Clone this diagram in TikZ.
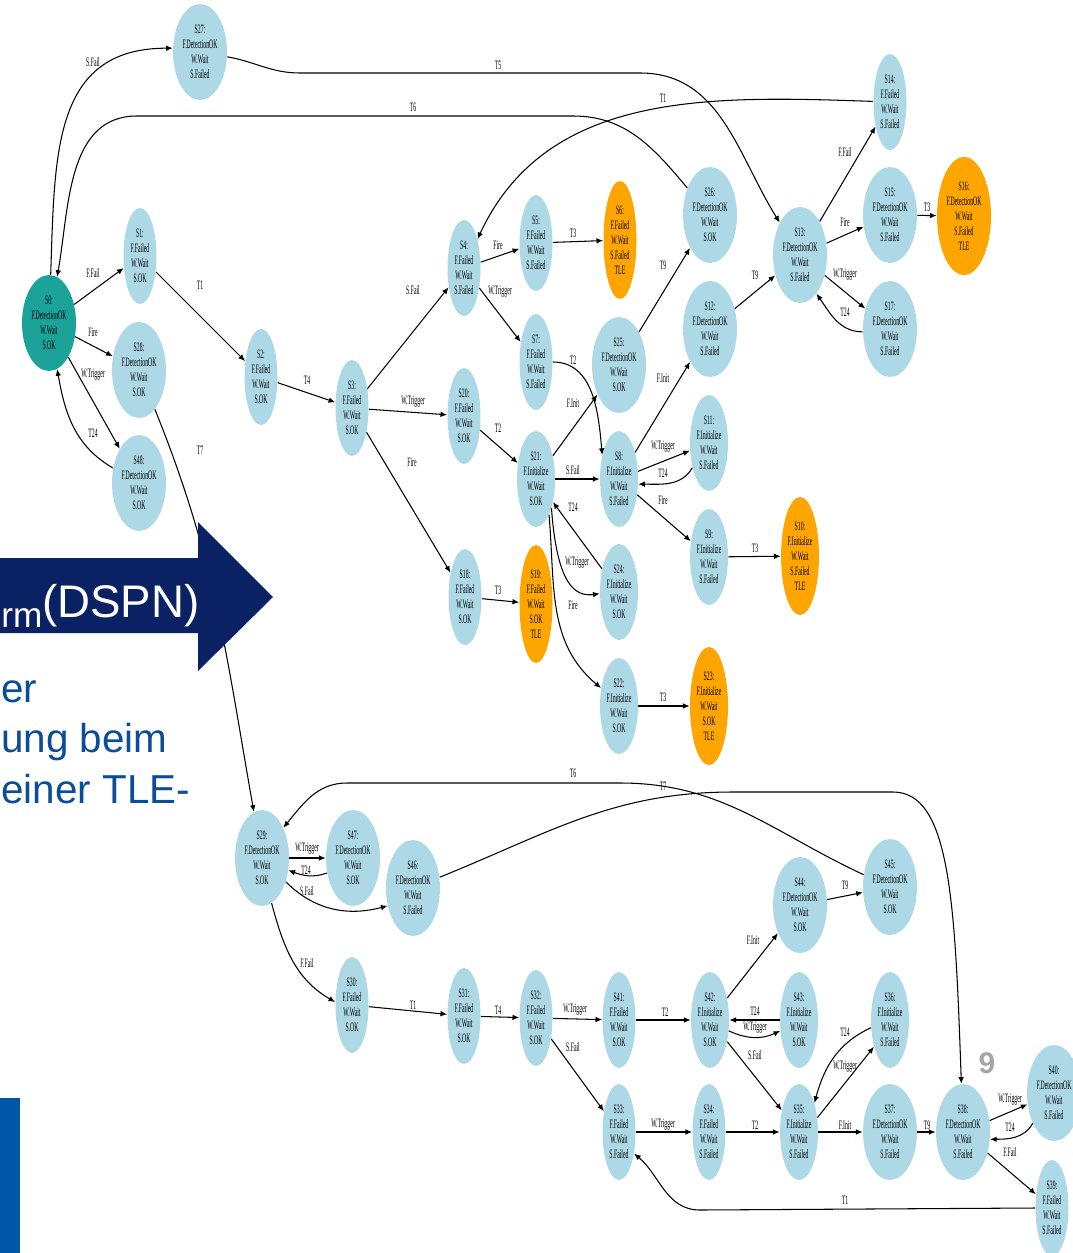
\documentclass[tikz,border=0pt]{standalone}
\usepackage{fontspec}
\newfontfamily\statefont[FakeStretch=0.45]{Liberation Serif}
\newfontfamily\slidefont{Liberation Sans}
\usetikzlibrary{shapes.geometric,arrows.meta}
\definecolor{stblue}{HTML}{ADD8E6}
\definecolor{tleorange}{HTML}{FFA500}
\definecolor{initteal}{HTML}{1BA39A}
\definecolor{dspnnavy}{HTML}{0A2163}
\definecolor{slidetext}{HTML}{0B4D99}
\definecolor{slideblue}{HTML}{0057A8}
\definecolor{pagegray}{HTML}{A6A6A6}
\tikzset{
  st/.style={ellipse, fill=stblue, inner sep=0pt, align=center, text=black, font=\statefont\fontsize{7.3}{8.5}\selectfont},
  dok/.style={st, minimum width=1.08cm, minimum height=1.92cm},
  fld/.style={st, minimum width=0.66cm, minimum height=1.92cm},
  ini/.style={st, minimum width=0.76cm, minimum height=1.92cm},
  tle/.style={fill=tleorange, minimum height=2.36cm},
  lbl/.style={inner sep=0pt, font=\statefont\fontsize{7.3}{8.5}\selectfont},
  tr/.style={line width=0.6pt, -{Latex[length=3.8pt,width=3.2pt]}},
}
\begin{document}
\begin{tikzpicture}[x=0.02cm,y=0.02cm]
\useasboundingbox (0,0) rectangle (1072,-1253);
\node[dok, fill=initteal] (s0) at (49,-323) {S0:\\F.DetectionOK\\W.Wait\\S.OK};
\node[dok] (s27) at (200,-52) {S27:\\F.DetectionOK\\W.Wait\\S.Failed};
\node[fld] (s1) at (140,-256) {S1:\\F.Failed\\W.Wait\\S.OK};
\node[dok] (s28) at (139,-370) {S28:\\F.DetectionOK\\W.Wait\\S.OK};
\node[dok] (s48) at (139,-483) {S48:\\F.DetectionOK\\W.Wait\\S.OK};
\node[fld] (s2) at (261,-377) {S2:\\F.Failed\\W.Wait\\S.OK};
\node[fld] (s3) at (352,-408) {S3:\\F.Failed\\W.Wait\\S.OK};
\node[fld] (s4) at (464,-268) {S4:\\F.Failed\\W.Wait\\S.Failed};
\node[fld] (s20) at (464,-416) {S20:\\F.Failed\\W.Wait\\S.OK};
\node[fld] (s18) at (465,-597) {S18:\\F.Failed\\W.Wait\\S.OK};
\node[fld] (s5) at (536,-243) {S5:\\F.Failed\\W.Wait\\S.Failed};
\node[fld, tle] (s6) at (620,-240) {S6:\\F.Failed\\W.Wait\\S.Failed\\TLE};
\node[fld] (s7) at (536,-362) {S7:\\F.Failed\\W.Wait\\S.Failed};
\node[fld, tle] (s19) at (536,-604) {S19:\\F.Failed\\W.Wait\\S.OK\\TLE};
\node[ini] (s21) at (536,-479) {S21:\\F.Initialize\\W.Wait\\S.OK};
\node[dok] (s25) at (619,-365) {S25:\\F.DetectionOK\\W.Wait\\S.OK};
\node[ini] (s8) at (619,-479) {S8:\\F.Initialize\\W.Wait\\S.Failed};
\node[ini] (s24) at (619,-592) {S24:\\F.Initialize\\W.Wait\\S.OK};
\node[ini] (s22) at (619,-706) {S22:\\F.Initialize\\W.Wait\\S.OK};
\node[ini, tle] (s23) at (709,-706) {S23:\\F.Initialize\\W.Wait\\S.OK\\TLE};
\node[dok] (s26) at (710,-215) {S26:\\F.DetectionOK\\W.Wait\\S.OK};
\node[dok] (s12) at (710,-329) {S12:\\F.DetectionOK\\W.Wait\\S.Failed};
\node[ini] (s11) at (709,-443) {S11:\\F.Initialize\\W.Wait\\S.Failed};
\node[ini] (s9) at (709,-557) {S9:\\F.Initialize\\W.Wait\\S.Failed};
\node[ini, tle] (s10) at (800,-556) {S10:\\F.Initialize\\W.Wait\\S.Failed\\TLE};
\node[dok] (s13) at (800,-255) {S13:\\F.DetectionOK\\W.Wait\\S.Failed};
\node[fld] (s14) at (890,-102) {S14:\\F.Failed\\W.Wait\\S.Failed};
\node[dok] (s15) at (890,-215) {S15:\\F.DetectionOK\\W.Wait\\S.Failed};
\node[dok, tle] (s16) at (964,-216) {S16:\\F.DetectionOK\\W.Wait\\S.Failed\\TLE};
\node[dok] (s17) at (890,-329) {S17:\\F.DetectionOK\\W.Wait\\S.Failed};
\node[dok] (s29) at (262,-858) {S29:\\F.DetectionOK\\W.Wait\\S.OK};
\node[dok] (s47) at (353,-858) {S47:\\F.DetectionOK\\W.Wait\\S.OK};
\node[dok] (s46) at (413,-888) {S46:\\F.DetectionOK\\W.Wait\\S.Failed};
\node[fld] (s30) at (352,-1005) {S30:\\F.Failed\\W.Wait\\S.OK};
\node[fld] (s31) at (464,-1016) {S31:\\F.Failed\\W.Wait\\S.OK};
\node[fld] (s32) at (536,-1018) {S32:\\F.Failed\\W.Wait\\S.OK};
\node[fld] (s41) at (619,-1020) {S41:\\F.Failed\\W.Wait\\S.OK};
\node[ini] (s42) at (710,-1020) {S42:\\F.Initialize\\W.Wait\\S.OK};
\node[ini] (s43) at (799,-1020) {S43:\\F.Initialize\\W.Wait\\S.OK};
\node[dok] (s44) at (800,-905) {S44:\\F.DetectionOK\\W.Wait\\S.OK};
\node[dok] (s45) at (890,-887) {S45:\\F.DetectionOK\\W.Wait\\S.OK};
\node[ini] (s36) at (890,-1020) {S36:\\F.Initialize\\W.Wait\\S.Failed};
\node[fld] (s33) at (619,-1132) {S33:\\F.Failed\\W.Wait\\S.Failed};
\node[fld] (s34) at (709,-1132) {S34:\\F.Failed\\W.Wait\\S.Failed};
\node[ini] (s35) at (799,-1132) {S35:\\F.Initialize\\W.Wait\\S.Failed};
\node[dok] (s37) at (890,-1132) {S37:\\F.DetectionOK\\W.Wait\\S.Failed};
\node[dok] (s38) at (963,-1132) {S38:\\F.DetectionOK\\W.Wait\\S.Failed};
\node[dok] (s40) at (1054,-1093) {S40:\\F.DetectionOK\\W.Wait\\S.Failed};
\node[fld] (s39) at (1052,-1208) {S39:\\F.Failed\\W.Wait\\S.Failed};
\draw[tr] (s0) to[out=88,in=180,looseness=1.2] (s27.172) node[lbl] at (93,-62) {S.Fail};
\draw[tr] (s26) to[out=130,in=0] (573,-116) -- (137,-116) to[out=180,in=80] (s0.80) node[lbl] at (413,-107) {T6};
\draw[tr] (s27) to[out=-10,in=180] (300,-73) -- (640,-73) to[out=0,in=122] (s13) node[lbl] at (498,-65) {T5};
\draw[tr] (s14) to[out=178,in=65] (s4) node[lbl] at (663,-98) {T1};
\draw[tr] (s0) -- (s1) node[lbl] at (93,-273) {F.Fail};
\draw[tr] (s0) -- (s28) node[lbl] at (93,-332) {Fire};
\draw[tr] (s0) -- (s48) node[lbl] at (93,-375) {W.Trigger};
\draw[tr] (s48) to[out=150,in=-80] (s0) node[lbl] at (93,-433) {T24};
\draw[tr] (s28) to[out=-68,in=100] (s29) node[lbl] at (200,-450) {T7};
\draw[tr] (s1) -- (s2) node[lbl] at (200,-285) {T1};
\draw[tr] (s2) -- (s3) node[lbl] at (307,-380) {T4};
\draw[tr] (s3) -- (s4) node[lbl] at (413,-290) {S.Fail};
\draw[tr] (s3) -- (s20) node[lbl] at (413,-402) {W.Trigger};
\draw[tr] (s3) -- (s18) node[lbl] at (412,-462) {Fire};
\draw[tr] (s4) -- (s5) node[lbl] at (498,-245) {Fire};
\draw[tr] (s4) -- (s7) node[lbl] at (500,-292) {W.Trigger};
\draw[tr] (s5) -- (s6) node[lbl] at (573,-233) {T3};
\draw[tr] (s20) -- (s21) node[lbl] at (498,-428) {T2};
\draw[tr] (s7.0) to[out=0,in=95] (s8.125) node[lbl] at (573,-360) {T2};
\draw[tr] (s21) -- (s25) node[lbl] at (573,-403) {F.Init};
\draw[tr] (s21) -- (s8) node[lbl] at (573,-470) {S.Fail};
\draw[tr] (s24) -- (s21) node[lbl] at (573,-507) {T24};
\draw[tr] (s21.-62) .. controls (557,-585) and (575,-597) .. (s24.185) node[lbl] at (577,-563) {W.Trigger};
\draw[tr] (s21.-70) to[out=-85,in=140] (s22.135) node[lbl] at (573,-605) {Fire};
\draw[tr] (s18) -- (s19) node[lbl] at (498,-590) {T3};
\draw[tr] (s22) -- (s23) node[lbl] at (663,-697) {T3};
\draw[tr] (s25) -- (s26) node[lbl] at (663,-265) {T9};
\draw[tr] (s8) -- (s12) node[lbl] at (663,-378) {F.Init};
\draw[tr] (s8) -- (s11) node[lbl] at (663,-447) {W.Trigger};
\draw[tr] (s11.236) to[out=-120,in=0] (s8.-15) node[lbl] at (663,-473) {T24};
\draw[tr] (s8) -- (s9) node[lbl] at (663,-500) {Fire};
\draw[tr] (s9) -- (s10) node[lbl] at (755,-548) {T3};
\draw[tr] (s12) -- (s13) node[lbl] at (755,-275) {T9};
\draw[tr] (s13) -- (s14) node[lbl] at (845,-152) {F.Fail};
\draw[tr] (s13) -- (s15) node[lbl] at (845,-222) {Fire};
\draw[tr] (s15) -- (s16) node[lbl] at (927,-207) {T3};
\draw[tr] (s13) -- (s17) node[lbl] at (845,-275) {W.Trigger};
\draw[tr] (s17.186) to[out=180,in=-55] (s13.-67) node[lbl] at (845,-312) {T24};
\draw[tr] (s45) to[out=155,in=0] (620,-783) -- (347,-783) to[out=180,in=50] (s29.55) node[lbl] at (573,-773) {T6};
\draw[tr] (s46) to[out=22,in=180] (733,-792) -- (893,-792) .. controls (950,-792) and (955,-900) .. (s38) node[lbl] at (663,-786) {T7};
\draw[tr] (s29) -- (s47) node[lbl] at (307,-849) {W.Trigger};
\draw[tr] (s47.210) to[out=200,in=-20] (s29.-25) node[lbl] at (306,-870) {T24};
\draw[tr] (s29.-45) to[out=-45,in=195] (s46.215) node[lbl] at (307,-891) {S.Fail};
\draw[tr] (s29.-78) to[out=-75,in=150] (s30.170) node[lbl] at (307,-963) {F.Fail};
\draw[tr] (s30) -- (s31) node[lbl] at (413,-1005) {T1};
\draw[tr] (s31) -- (s32) node[lbl] at (498,-1010) {T4};
\draw[tr] (s32) -- (s41) node[lbl] at (575,-1010) {W.Trigger};
\draw[tr] (s32) -- (s33) node[lbl] at (573,-1047) {S.Fail};
\draw[tr] (s41) -- (s42) node[lbl] at (665,-1012) {T2};
\draw[tr] (s42) -- (s44) node[lbl] at (753,-940) {F.Init};
\draw[tr] (s44) -- (s45) node[lbl] at (845,-885) {T9};
\draw[tr] (s43) -- (s42) node[lbl] at (755,-1011) {T24};
\draw[tr] (s42.-30) to[out=-25,in=205] (s43.210) node[lbl] at (755,-1028) {W.Trigger};
\draw[tr] (s42) -- (s35) node[lbl] at (755,-1055) {S.Fail};
\draw[tr] (s36.202) to[out=205,in=75] (s35.62) node[lbl] at (845,-1032) {T24};
\draw[tr] (s35.38) -- (s36.239) node[lbl] at (845,-1067) {W.Trigger};
\draw[tr] (s33) -- (s34) node[lbl] at (663,-1125) {W.Trigger};
\draw[tr] (s34) -- (s35) node[lbl] at (755,-1125) {T2};
\draw[tr] (s35) -- (s37) node[lbl] at (845,-1125) {F.Init};
\draw[tr] (s37) -- (s38) node[lbl] at (927,-1125) {T9};
\draw[tr] (s38) -- (s40) node[lbl] at (1010,-1100) {W.Trigger};
\draw[tr] (s40.235) to[out=240,in=0] (s38.-15) node[lbl] at (1010,-1127) {T24};
\draw[tr] (s38) -- (s39) node[lbl] at (1010,-1152) {F.Fail};
\draw[tr] (s39.180) -- (700,-1210) to[out=180,in=-40] (s33.-55) node[lbl] at (845,-1200) {T1};
\fill[dspnnavy] (0,-558) -- (198,-558) -- (198,-522) -- (273,-597) -- (198,-671) -- (198,-633) -- (0,-633) -- cycle;
\node[anchor=base west, inner sep=0pt, text=white, font=\slidefont\fontsize{26}{30}\selectfont] (dspn) at (1,-617) {\raisebox{-6pt}{\fontsize{20}{20}\selectfont rm}(DSPN)};
\node[anchor=base west, inner sep=0pt, text=slidetext, font=\slidefont\fontsize{23}{28}\selectfont] (txa) at (1,-702) {er};
\node[anchor=base west, inner sep=0pt, text=slidetext, font=\slidefont\fontsize{23}{28}\selectfont] (txb) at (1,-752) {ung beim};
\node[anchor=base west, inner sep=0pt, text=slidetext, font=\slidefont\fontsize{23}{28}\selectfont] (txc) at (1,-803) {einer TLE-};
\fill[slideblue] (0,-1098) rectangle (20,-1253);
\node[text=pagegray, font=\slidefont\bfseries\fontsize{17}{17}\selectfont] (pg) at (987,-1063) {9};
\end{tikzpicture}
\end{document}
